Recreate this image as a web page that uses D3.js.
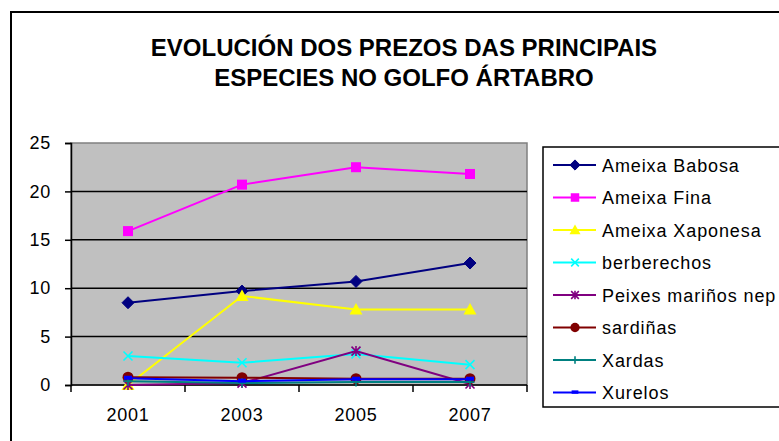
<!DOCTYPE html>
<html>
<head>
<meta charset="utf-8">
<script src="https://cdn.jsdelivr.net/npm/d3@7"></script>
<style>
  html, body { margin: 0; padding: 0; background: #fff; }
  svg { display: block; }
  text { font-family: "Liberation Sans", Arial, sans-serif; }
</style>
</head>
<body>
<svg id="chart" width="779" height="441"></svg>
<script>
// Price series per species (years 2001–2007)
const years = ["2001", "2003", "2005", "2007"];
const seriesNames = ["Ameixa Babosa", "Ameixa Fina", "Ameixa Xaponesa", "berberechos",
  "Peixes mariños nep", "sardiñas", "Xardas", "Xurelos"];
const ameixaBabosa = [8.5, 9.7, 10.7, 12.6];
const ameixaFina = [15.9, 20.7, 22.5, 21.8];
const ameixaXaponesa = [0.0, 9.2, 7.8, 7.8];
const berberechos = [3.0, 2.3, 3.2, 2.1];
const peixesMarinos = [0.0, 0.2, 3.5, 0.1];
const sardinas = [0.8, 0.75, 0.65, 0.65];
const xardas = [0.4, 0.2, 0.3, 0.3];
const xurelos = [0.7, 0.4, 0.6, 0.6];
const yTicks = [0, 5, 10, 15, 20, 25];
const titleLines = ["EVOLUCIÓN DOS PREZOS DAS PRINCIPAIS", "ESPECIES NO GOLFO ÁRTABRO"];

const seriesValues = [ameixaBabosa, ameixaFina, ameixaXaponesa, berberechos,
  peixesMarinos, sardinas, xardas, xurelos];
const colors = ["#000080", "#FF00FF", "#FFFF00", "#00FFFF", "#800080", "#800000", "#008080", "#0000FF"];
const markers = ["diamond", "square", "triangle", "x", "star", "circle", "plus", "dash"];

const series = seriesNames.map((name, i) => ({
  name, values: seriesValues[i], color: colors[i], marker: markers[i]
}));

const svg = d3.select("#chart");
const plot = { left: 71, right: 527, top: 143, bottom: 385 };

// Outer chart frame
svg.append("rect")
  .attr("x", 11).attr("y", 12).attr("width", 820).attr("height", 480)
  .attr("fill", "#fff").attr("stroke", "#000").attr("stroke-width", 2);

// Title
svg.append("g").selectAll("text").data(titleLines).join("text")
  .attr("x", 404).attr("y", (d, i) => 56 + i * 30)
  .attr("text-anchor", "middle")
  .attr("font-size", 24).attr("font-weight", "bold")
  .attr("fill", "#000")
  .text(d => d);

const x = d3.scaleBand().domain(years).range([plot.left, plot.right]).padding(0);
const y = d3.scaleLinear().domain([0, 25]).range([plot.bottom, plot.top]);
const cx = d => x(d) + x.bandwidth() / 2;

// Plot background
svg.append("rect")
  .attr("x", plot.left).attr("y", plot.top)
  .attr("width", plot.right - plot.left).attr("height", plot.bottom - plot.top)
  .attr("fill", "#C0C0C0").attr("stroke", "#808080").attr("stroke-width", 1.5);

// Gridlines
svg.append("g").selectAll("line").data(yTicks.filter(t => t > 0 && t < 25)).join("line")
  .attr("x1", plot.left).attr("x2", plot.right)
  .attr("y1", d => y(d)).attr("y2", d => y(d))
  .attr("stroke", "#000").attr("stroke-width", 1.5);

// Y axis
const yAxis = svg.append("g").attr("transform", `translate(${plot.left},0)`)
  .call(d3.axisLeft(y).tickValues(yTicks).tickSize(6).tickPadding(14).tickFormat(d3.format("d")));
yAxis.select(".domain").attr("stroke", "#000").attr("stroke-width", 1.5);
yAxis.selectAll(".tick line").attr("stroke", "#000").attr("stroke-width", 1.5);
yAxis.selectAll(".tick text").attr("font-size", 18).attr("letter-spacing", 0.8).attr("fill", "#000")
  .attr("font-family", "Liberation Sans, Arial, sans-serif");

// X axis (ticks between categories)
const xAxisG = svg.append("g").attr("transform", `translate(0,${plot.bottom})`);
xAxisG.append("line").attr("x1", plot.left).attr("x2", plot.right)
  .attr("stroke", "#000").attr("stroke-width", 1.5);
const bounds = years.map(d => x(d)).concat([plot.right]);
xAxisG.selectAll("line.tk").data(bounds).join("line").attr("class", "tk")
  .attr("x1", d => d).attr("x2", d => d).attr("y1", 0).attr("y2", 7)
  .attr("stroke", "#000").attr("stroke-width", 1.5);
xAxisG.selectAll("text").data(years).join("text")
  .attr("x", d => cx(d)).attr("y", 36)
  .attr("text-anchor", "middle").attr("font-size", 18).attr("letter-spacing", 0.8).attr("fill", "#000")
  .text(d => d);

// Marker shapes
function drawMarker(g, type, color, px, py, scale = 1) {
  const s = scale;
  switch (type) {
    case "diamond":
      g.append("path").attr("d", `M${px},${py - 6 * s}L${px + 6 * s},${py}L${px},${py + 6 * s}L${px - 6 * s},${py}Z`)
        .attr("fill", color).attr("stroke", color);
      break;
    case "square":
      g.append("rect").attr("x", px - 5 * s).attr("y", py - 5 * s)
        .attr("width", 10 * s).attr("height", 10 * s).attr("fill", color);
      break;
    case "triangle":
      g.append("path").attr("d", `M${px},${py - 6.5 * s}L${px + 6.5 * s},${py + 5 * s}L${px - 6.5 * s},${py + 5 * s}Z`)
        .attr("fill", color);
      break;
    case "x":
      g.append("path").attr("d", `M${px - 4.5 * s},${py - 4.5 * s}L${px + 4.5 * s},${py + 4.5 * s}M${px + 4.5 * s},${py - 4.5 * s}L${px - 4.5 * s},${py + 4.5 * s}`)
        .attr("stroke", color).attr("stroke-width", 1.6).attr("fill", "none");
      break;
    case "star":
      g.append("path").attr("d", `M${px - 4.5 * s},${py - 4.5 * s}L${px + 4.5 * s},${py + 4.5 * s}M${px + 4.5 * s},${py - 4.5 * s}L${px - 4.5 * s},${py + 4.5 * s}M${px},${py - 5 * s}L${px},${py + 5 * s}`)
        .attr("stroke", color).attr("stroke-width", 1.6).attr("fill", "none");
      break;
    case "circle":
      g.append("circle").attr("cx", px).attr("cy", py).attr("r", 5.5 * s).attr("fill", color);
      break;
    case "plus":
      g.append("path").attr("d", `M${px - 4.5 * s},${py}L${px + 4.5 * s},${py}M${px},${py - 4.5 * s}L${px},${py + 4.5 * s}`)
        .attr("stroke", color).attr("stroke-width", 1.6).attr("fill", "none");
      break;
    case "dash":
      g.append("rect").attr("x", px - 4 * s).attr("y", py - 2.5 * s)
        .attr("width", 8 * s).attr("height", 4 * s).attr("fill", color);
      break;
  }
}

// Lines and markers
const line = d3.line().x((d, i) => cx(years[i])).y(d => y(d));
const seriesG = svg.append("g");
series.forEach(s => {
  const g = seriesG.append("g");
  g.append("path").attr("d", line(s.values))
    .attr("fill", "none").attr("stroke", s.color).attr("stroke-width", 2);
  s.values.forEach((v, i) => drawMarker(g, s.marker, s.color, cx(years[i]), y(v)));
});

// Legend
const legend = svg.append("g");
legend.append("rect")
  .attr("x", 543).attr("y", 147).attr("width", 320).attr("height", 260)
  .attr("fill", "#fff").attr("stroke", "#000").attr("stroke-width", 1.5);
series.forEach((s, i) => {
  const ly = 165 + i * 32.5;
  const g = legend.append("g");
  g.append("line").attr("x1", 553).attr("x2", 596).attr("y1", ly).attr("y2", ly)
    .attr("stroke", s.color).attr("stroke-width", 2);
  drawMarker(g, s.marker, s.color, 575, ly, 0.85);
  g.append("text").attr("x", 602).attr("y", ly + 6.5)
    .attr("font-size", 18).attr("letter-spacing", 0.9).attr("fill", "#000").text(s.name);
});
</script>
</body>
</html>
